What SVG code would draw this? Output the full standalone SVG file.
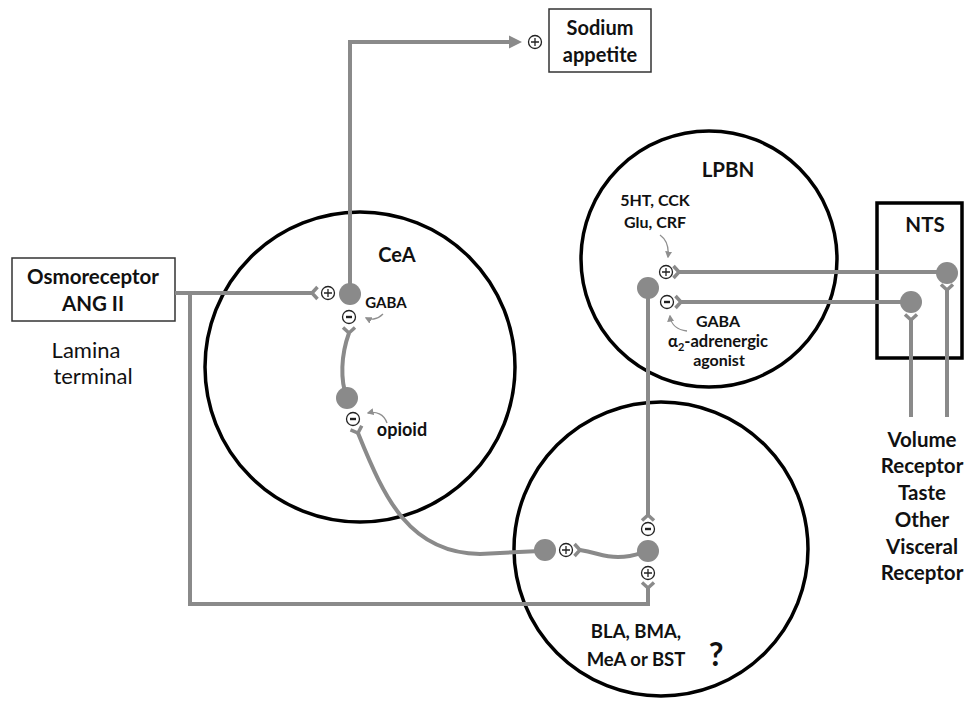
<svg xmlns="http://www.w3.org/2000/svg" xmlns:xlink="http://www.w3.org/1999/xlink" width="968" height="704" viewBox="0 0 968 704">
<style>
.reg{fill:none;stroke:#000;stroke-width:3.5}
.box{fill:#fff;stroke:#333;stroke-width:1.5}
.ntsbox{fill:none;stroke:#000;stroke-width:3.5}
.ax{fill:none;stroke:#8a8a8a;stroke-width:4}
.soma{fill:#8a8a8a}
.mod{fill:none;stroke:#8f8f8f;stroke-width:1.3}
.t{font-family:Lato,"Liberation Sans",sans-serif;font-weight:700;fill:#111;text-anchor:middle}
.n{font-family:Lato,"Liberation Sans",sans-serif;font-weight:400;fill:#111;text-anchor:middle}
</style>
<defs>
<path id="rec" d="M5.5,-6 L0,0 L5.5,6" fill="none" stroke="#8a8a8a" stroke-width="3.5"/>
<g id="plus"><circle r="6.5" fill="#fff" stroke="#222" stroke-width="1.3"/><path d="M-4,0H4M0,-4V4" stroke="#222" stroke-width="1.3"/></g>
<g id="minus"><circle r="6.5" fill="#fff" stroke="#222" stroke-width="1.3"/><path d="M-3,0H3" stroke="#222" stroke-width="2.4"/></g>
<marker id="ma" viewBox="0 0 10 10" refX="8" refY="5" markerWidth="7" markerHeight="7" markerUnits="userSpaceOnUse" orient="auto"><path d="M0,0L10,5L0,10z" fill="#8f8f8f"/></marker>
</defs>

<g id="CeA">
<circle class="reg" cx="360" cy="367" r="155"/>
<text class="t" x="397" y="262" font-size="20">CeA</text>
<text class="t" x="386" y="308" font-size="15">GABA</text>
<text class="t" x="402" y="436" font-size="18">opioid</text>
</g>

<g id="LPBN">
<circle class="reg" cx="709" cy="259" r="128"/>
<text class="t" x="728" y="177" font-size="20.5">LPBN</text>
<text class="t" x="655" y="206" font-size="16">5HT, CCK</text>
<text class="t" x="655" y="228" font-size="16">Glu, CRF</text>
<text class="t" x="718" y="327" font-size="16">GABA</text>
<text class="t" x="718" y="347" font-size="16.5">α<tspan font-size="11" dy="4">2</tspan><tspan dy="-4">-adrenergic</tspan></text>
<text class="t" x="719" y="366" font-size="16">agonist</text>
</g>

<g id="BLA">
<circle class="reg" cx="661" cy="549" r="147"/>
<text class="t" x="636" y="638" font-size="18.5">BLA, BMA,</text>
<text class="t" x="636" y="666" font-size="18.5">MeA or BST</text>
<text class="t" x="716" y="666" font-size="32">?</text>
</g>

<g id="NTS">
<rect class="ntsbox" x="877" y="203" width="85" height="155"/>
<text class="t" x="925" y="232" font-size="20.5">NTS</text>
</g>

<g id="sodium">
<rect class="box" x="549" y="9" width="102" height="63"/>
<text class="t" x="600" y="35" font-size="20">Sodium</text>
<text class="t" x="600" y="62" font-size="20">appetite</text>
</g>

<g id="osmo">
<rect class="box" x="12" y="258" width="163" height="63"/>
<text class="t" x="93" y="284" font-size="20.5">Osmoreceptor</text>
<text class="t" x="93" y="311" font-size="20.5">ANG II</text>
<text class="n" x="86" y="358" font-size="22">Lamina</text>
<text class="n" x="93" y="384" font-size="22">terminal</text>
</g>

<g id="receptors">
<text class="t" x="922" y="447" font-size="20.5">Volume</text>
<text class="t" x="922" y="473" font-size="20.5">Receptor</text>
<text class="t" x="922" y="500" font-size="20.5">Taste</text>
<text class="t" x="922" y="527" font-size="20.5">Other</text>
<text class="t" x="922" y="554" font-size="20.5">Visceral</text>
<text class="t" x="922" y="580" font-size="20.5">Receptor</text>
</g>

<g id="connectors">
<path class="ax" d="M350,294V42H511"/>
<polygon points="509,35.5 522,42 509,48.5" fill="#8a8a8a"/>
<path class="ax" d="M175,293H312"/>
<path class="ax" d="M190,293V604H648V588"/>
<path class="ax" d="M349,333C341,355 340,380 347,398"/>
<path class="ax" d="M358,433C385,500 410,553 480,554L540,551"/>
<path class="ax" d="M580,550C598,553 603,557 618,557C634,557 640,553 648,551"/>
<path class="ax" d="M648,515V288"/>
<path class="ax" d="M679,272H947"/>
<path class="ax" d="M681,302H911"/>
<path class="ax" d="M947,290V417"/>
<path class="ax" d="M911,320V417"/>

<use href="#rec" transform="translate(312,293)"/>
<use href="#rec" transform="translate(648,588) rotate(-90)"/>
<use href="#rec" transform="translate(349,333) rotate(-90)"/>
<use href="#rec" transform="translate(358,433) rotate(-110)"/>
<use href="#rec" transform="translate(580,550) rotate(180)"/>
<use href="#rec" transform="translate(648,515) rotate(90)"/>
<use href="#rec" transform="translate(679,272) rotate(180)"/>
<use href="#rec" transform="translate(681,302) rotate(180)"/>
<use href="#rec" transform="translate(947,290) rotate(-90)"/>
<use href="#rec" transform="translate(911,320) rotate(-90)"/>

<circle class="soma" cx="350" cy="294" r="11"/>
<circle class="soma" cx="347" cy="398" r="11"/>
<circle class="soma" cx="545" cy="550" r="11"/>
<circle class="soma" cx="648" cy="551" r="11"/>
<circle class="soma" cx="648" cy="288" r="11"/>
<circle class="soma" cx="947" cy="273" r="11"/>
<circle class="soma" cx="911" cy="302" r="11"/>

<use href="#plus" x="535" y="42"/>
<use href="#plus" x="328" y="293"/>
<use href="#minus" x="349" y="317"/>
<use href="#minus" x="353" y="419"/>
<use href="#plus" x="566" y="550"/>
<use href="#minus" x="648" y="529"/>
<use href="#plus" x="648" y="573"/>
<use href="#plus" x="666" y="272"/>
<use href="#minus" x="667" y="302"/>

<path class="mod" d="M383,314C377,320 370,320 366,318" marker-end="url(#ma)"/>
<path class="mod" d="M387,423C384,414 376,411 368,413" marker-end="url(#ma)"/>
<path class="mod" d="M660,235C667,240 669,248 668,257" marker-end="url(#ma)"/>
<path class="mod" d="M687,331C678,330 671,325 670,316" marker-end="url(#ma)"/>
</g>
</svg>
